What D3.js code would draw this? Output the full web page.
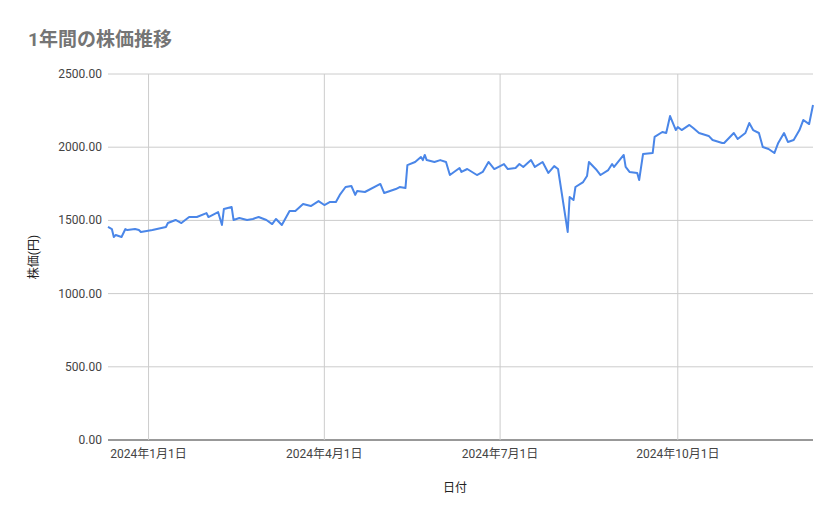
<!DOCTYPE html>
<html><head><meta charset="utf-8">
<script src="https://cdn.jsdelivr.net/npm/d3@7"></script>
<style>body{margin:0;background:#fff}text{font-family:Roboto,"Noto Sans CJK JP",sans-serif}</style>
</head><body><svg id="c" width="839" height="519"></svg>
<script>
const dates=["2023-12-11","2023-12-13","2023-12-14","2023-12-15","2023-12-18","2023-12-20","2023-12-21","2023-12-25","2023-12-27","2023-12-28","2024-01-03","2024-01-10","2024-01-11","2024-01-15","2024-01-18","2024-01-22","2024-01-26","2024-01-31","2024-02-01","2024-02-06","2024-02-08","2024-02-09","2024-02-13","2024-02-14","2024-02-17","2024-02-21","2024-02-24","2024-02-27","2024-03-02","2024-03-05","2024-03-07","2024-03-10","2024-03-14","2024-03-17","2024-03-21","2024-03-25","2024-03-29","2024-04-01","2024-04-04","2024-04-07","2024-04-09","2024-04-12","2024-04-15","2024-04-17","2024-04-18","2024-04-22","2024-04-30","2024-05-02","2024-05-08","2024-05-10","2024-05-13","2024-05-14","2024-05-18","2024-05-21","2024-05-22","2024-05-23","2024-05-24","2024-05-28","2024-05-31","2024-06-03","2024-06-05","2024-06-10","2024-06-11","2024-06-14","2024-06-19","2024-06-22","2024-06-25","2024-06-28","2024-07-03","2024-07-05","2024-07-09","2024-07-11","2024-07-13","2024-07-17","2024-07-19","2024-07-23","2024-07-26","2024-07-29","2024-07-31","2024-08-05","2024-08-06","2024-08-08","2024-08-09","2024-08-13","2024-08-15","2024-08-16","2024-08-20","2024-08-22","2024-08-26","2024-08-28","2024-08-29","2024-09-03","2024-09-04","2024-09-06","2024-09-10","2024-09-11","2024-09-13","2024-09-18","2024-09-19","2024-09-23","2024-09-25","2024-09-27","2024-09-30","2024-10-01","2024-10-03","2024-10-07","2024-10-09","2024-10-12","2024-10-17","2024-10-19","2024-10-24","2024-10-25","2024-10-30","2024-11-01","2024-11-05","2024-11-07","2024-11-09","2024-11-12","2024-11-14","2024-11-17","2024-11-20","2024-11-22","2024-11-25","2024-11-27","2024-11-30","2024-12-03","2024-12-05","2024-12-08","2024-12-10"];
const prices=[1455,1441,1387,1400,1387,1441,1434,1441,1434,1421,1434,1455,1482,1503,1482,1523,1523,1550,1523,1557,1469,1578,1592,1503,1516,1503,1510,1523,1503,1475,1510,1469,1564,1564,1612,1598,1632,1605,1626,1626,1674,1728,1735,1674,1701,1694,1749,1687,1714,1728,1721,1878,1899,1933,1912,1947,1912,1899,1912,1899,1810,1858,1831,1851,1810,1831,1899,1851,1885,1851,1858,1885,1865,1912,1865,1899,1824,1871,1851,1421,1660,1639,1728,1762,1803,1899,1844,1810,1844,1885,1865,1947,1865,1831,1824,1776,1953,1960,2070,2104,2097,2213,2117,2138,2117,2152,2131,2097,2077,2049,2029,2029,2097,2056,2097,2165,2117,2097,2001,1988,1960,2029,2097,2036,2049,2117,2186,2158,2288];
const yTicks=[0,500,1000,1500,2000,2500];
const xTicks=["2024-01-01","2024-04-01","2024-07-01","2024-10-01"];
const title="1年間の株価推移", xTitle="日付", yTitle="株価(円)";

const p=d3.timeParse("%Y-%m-%d");
const data=dates.map((d,i)=>({d:p(d),v:prices[i]}));
const svg=d3.select("#c");
const L=108,R=813,T=74,B=440;
const x=d3.scaleTime().domain(d3.extent(data,d=>d.d)).range([L,R]);
const y=d3.scaleLinear().domain([0,2500]).range([B,T]);
svg.append("g").selectAll("line").data(yTicks).join("line")
 .attr("x1",L).attr("x2",R).attr("y1",d=>y(d)).attr("y2",d=>y(d))
 .attr("stroke",d=>d===0?"#333":"#ccc").attr("stroke-width",1);
svg.append("g").selectAll("line").data(xTicks).join("line")
 .attr("x1",d=>x(p(d))).attr("x2",d=>x(p(d))).attr("y1",T).attr("y2",B).attr("stroke","#ccc");
svg.append("g").selectAll("text").data(yTicks).join("text")
 .attr("x",102).attr("y",d=>y(d)+4).attr("text-anchor","end").attr("font-size",12).attr("fill","#444")
 .text(d=>d3.format(".2f")(d));
const fmt=d3.timeFormat("%Y年%-m月%-d日");
svg.append("g").selectAll("text").data(xTicks).join("text")
 .attr("x",d=>x(p(d))).attr("y",458).attr("text-anchor","middle").attr("font-size",12).attr("fill","#444")
 .text(d=>fmt(p(d)));
svg.append("path").datum(data).attr("fill","none").attr("stroke","#4a86e8").attr("stroke-width",2)
 .attr("stroke-linejoin","round").attr("d",d3.line().x(d=>x(d.d)).y(d=>y(d.v)));
svg.append("text").attr("x",28).attr("y",46).attr("font-size",19).attr("font-weight","bold").attr("fill","#757575").text(title);
svg.append("text").attr("x",455).attr("y",492).attr("text-anchor","middle").attr("font-size",12).attr("fill","#222").text(xTitle);
svg.append("text").attr("transform","translate(38,257) rotate(-90)").attr("text-anchor","middle").attr("font-size",12).attr("fill","#222").text(yTitle);
</script></body></html>
